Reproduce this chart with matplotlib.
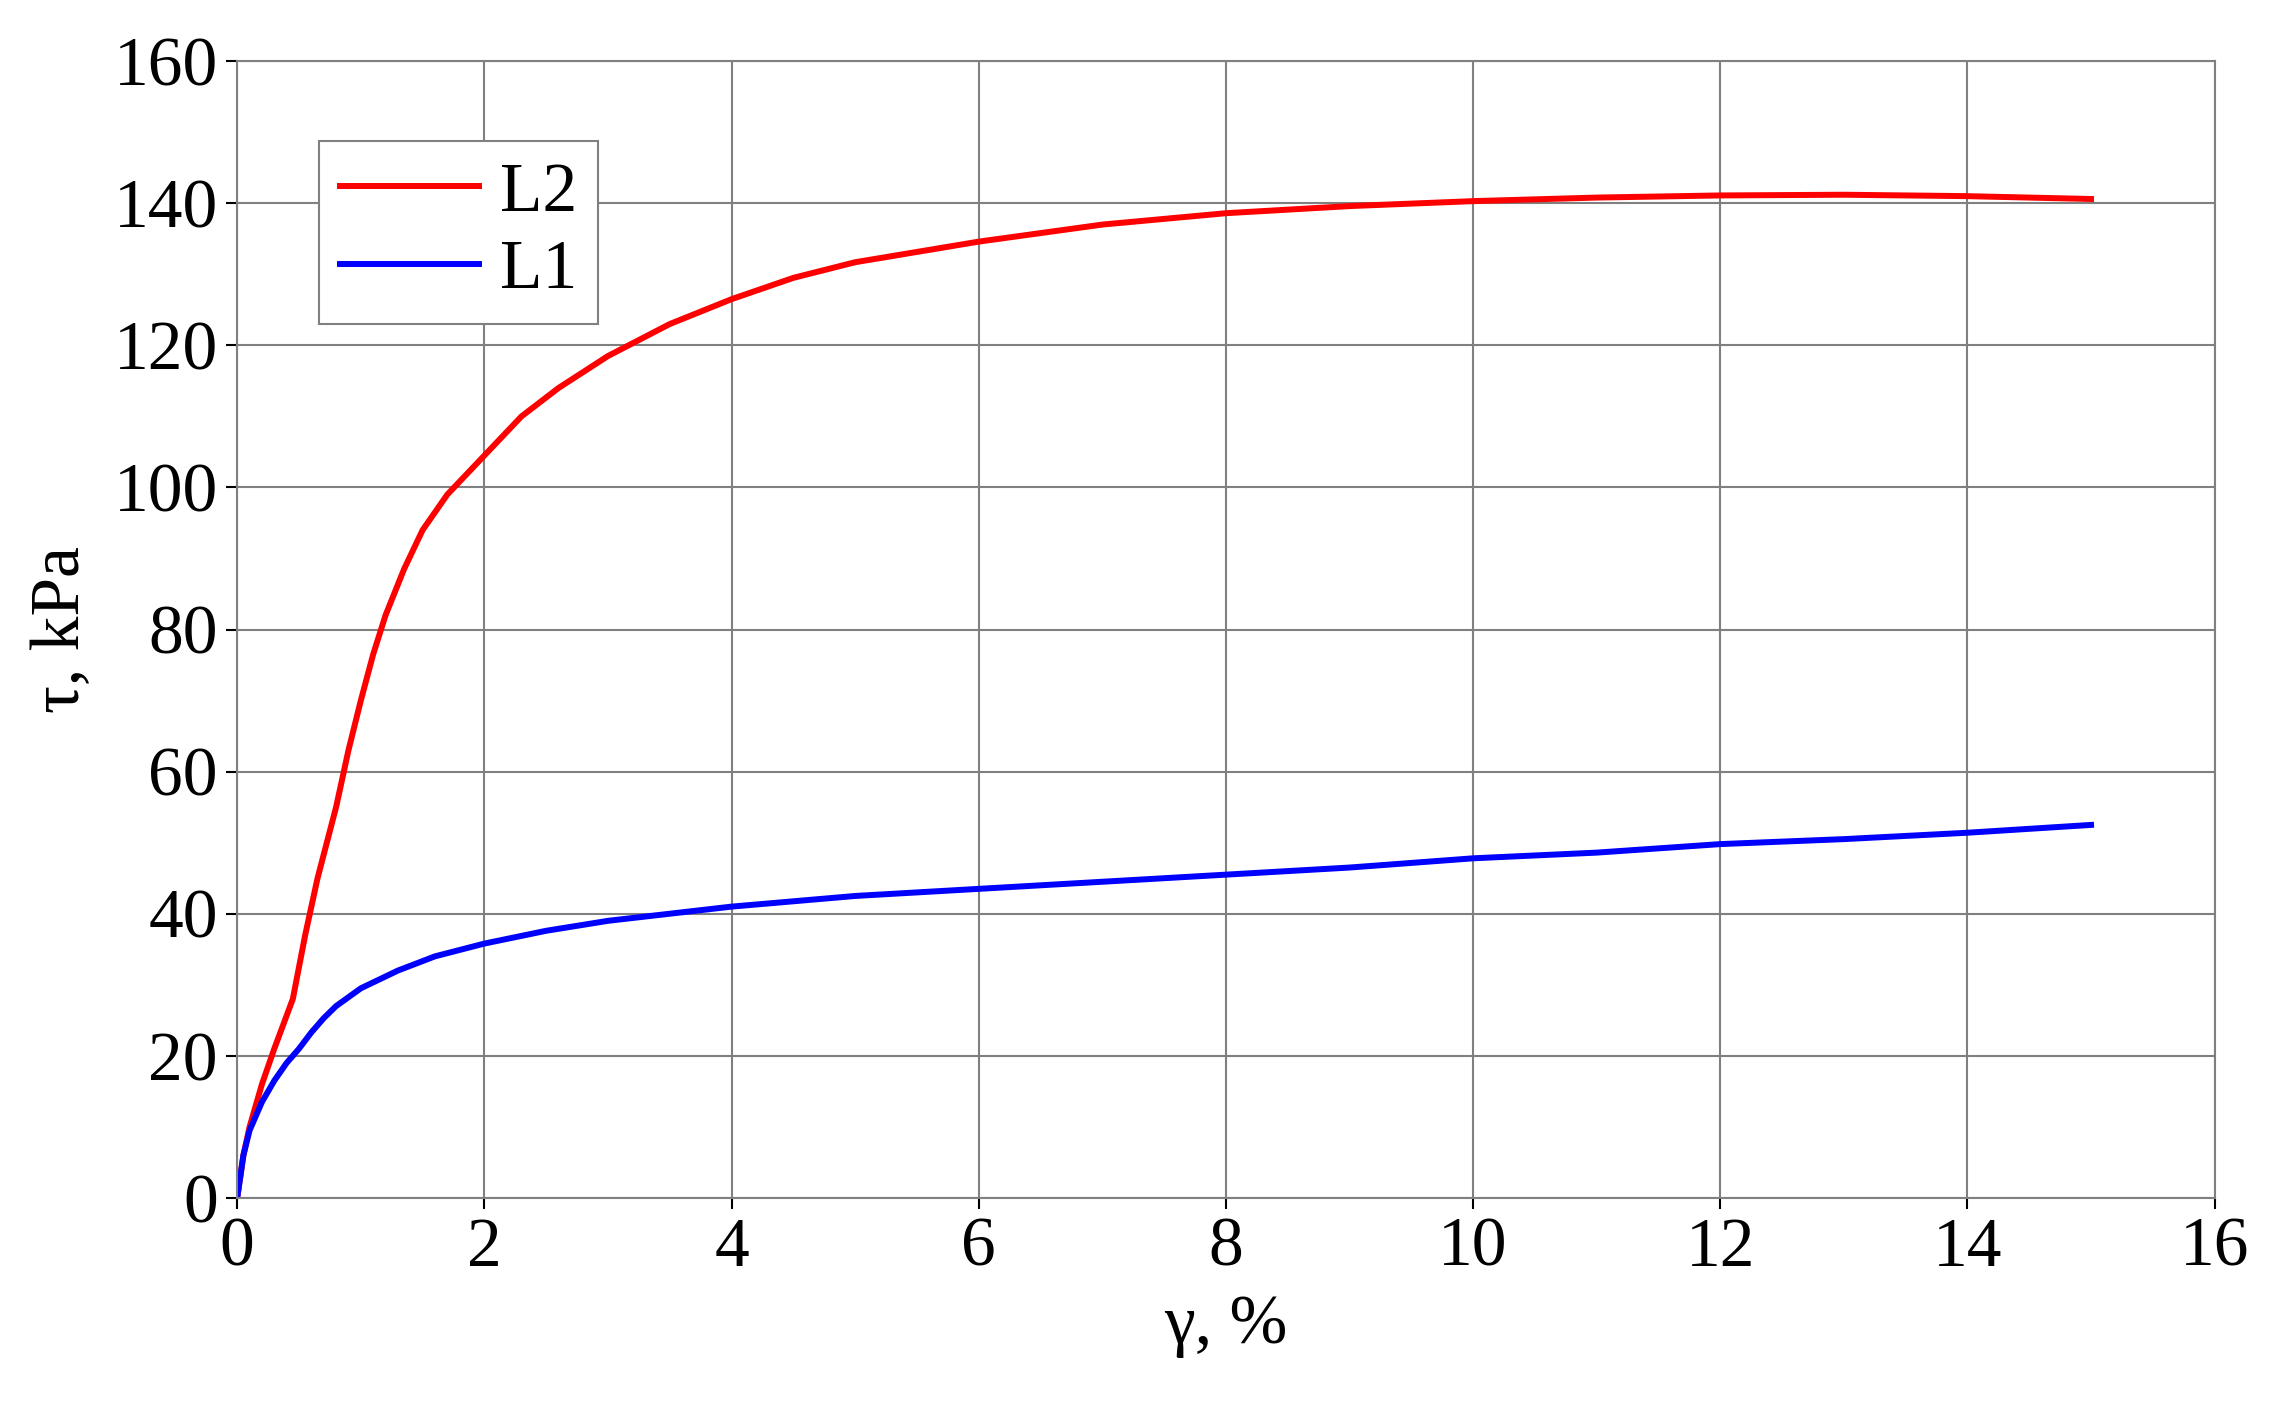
import matplotlib
matplotlib.use("Agg")
import matplotlib.pyplot as plt

plt.rcParams['font.family'] = ['Liberation Serif', 'DejaVu Serif']

l2_x = [0, 0.05, 0.1, 0.2, 0.3, 0.45, 0.55, 0.65, 0.8, 0.9, 1.0, 1.1, 1.2, 1.35, 1.5, 1.7, 2, 2.3, 2.6, 3, 3.5, 4, 4.5, 5, 6, 7, 8, 9, 10, 11, 12, 13, 14, 15]
l2_y = [0, 6, 10, 16, 21, 28, 37, 45, 55, 63, 70, 76.5, 82, 88.5, 94, 99, 104.5, 110, 114, 118.5, 123, 126.5, 129.5, 131.7, 134.6, 137, 138.6, 139.6, 140.3, 140.8, 141.1, 141.2, 141.0, 140.6]
l1_x = [0, 0.05, 0.1, 0.2, 0.3, 0.4, 0.5, 0.6, 0.7, 0.8, 1, 1.3, 1.6, 2, 2.5, 3, 3.5, 4, 5, 6, 7, 8, 9, 10, 11, 12, 13, 14, 15]
l1_y = [0, 6, 9.5, 13.5, 16.5, 19, 21, 23.3, 25.3, 27, 29.5, 32, 34, 35.8, 37.6, 39, 40, 41, 42.5, 43.5, 44.5, 45.5, 46.5, 47.8, 48.6, 49.8, 50.5, 51.4, 52.5]

fig = plt.figure(figsize=(22.7, 14.06), dpi=100)
ax = fig.add_axes([0.1045, 0.148, 0.8711, 0.8085])
ax.plot(l2_x, l2_y, color='#ff0000', lw=4.3, label='L2')
ax.plot(l1_x, l1_y, color='#0000ff', lw=4.3, label='L1')
ax.set_xlim(0, 16)
ax.set_ylim(0, 160)
ax.set_xticks(range(0, 17, 2))
ax.set_yticks(range(0, 161, 20))
ax.grid(True, color='#808080', lw=1.5)
ax.tick_params(labelsize=50, direction='out', length=8, width=1.5, pad=6)
for s in ax.spines.values():
    s.set_color('#808080'); s.set_linewidth(1.5)
ax.set_xlabel('γ, %', fontsize=50, labelpad=10)
ax.set_ylabel('τ, kPa', fontsize=50, labelpad=14)
leg = ax.legend(loc='upper left', bbox_to_anchor=(0.024, 0.96), fontsize=50, fancybox=False,
                edgecolor='#808080', framealpha=1, handlelength=2.0, borderpad=0.3, labelspacing=0.2, handletextpad=0.3)
leg.get_frame().set_linewidth(1.5)
fig.savefig('out.png', dpi=100)
